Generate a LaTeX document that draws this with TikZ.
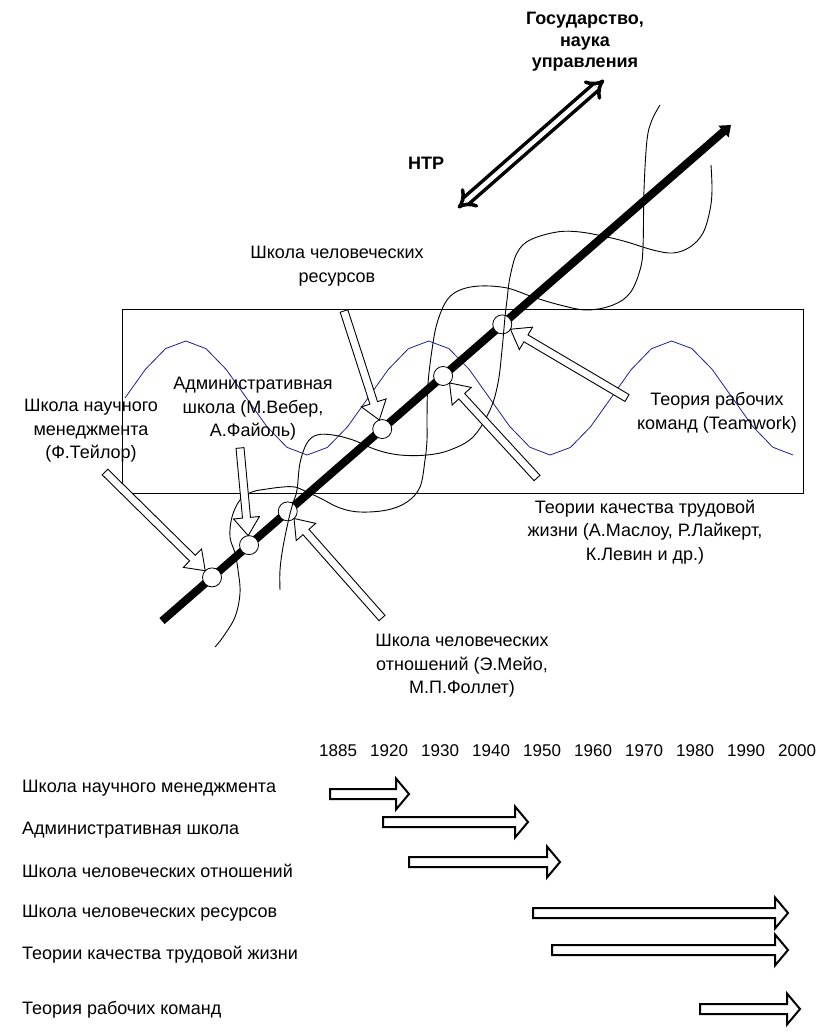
\documentclass[tikz,border=0pt]{standalone}
\usepackage{fontspec}
\setmainfont{Liberation Sans}
\usetikzlibrary{calc,arrows.meta}
\definecolor{navy}{RGB}{30,30,150}
\newcommand{\blockarrowdraw}[6]{%
  \coordinate (hb) at ($(#3)!#6!(#2)$);
  \draw[#1] ($(#2)!#4!90:(#3)$) -- ($(hb)!#4!90:(#3)$) -- ($(hb)!#5!90:(#3)$) -- (#3)
    -- ($(hb)!#5!-90:(#3)$) -- ($(hb)!#4!-90:(#3)$) -- ($(#2)!#4!-90:(#3)$) -- cycle;
}
\tikzset{
  lbl/.style={font=\fontsize{18}{23.5}\selectfont, align=center, inner sep=0pt},
  blbl/.style={font=\fontsize{18}{21.5}\selectfont\bfseries, align=center, inner sep=0pt},
  rowlbl/.style={font=\fontsize{18}{22}\selectfont, anchor=west, inner sep=0pt},
  yearlbl/.style={font=\fontsize{17}{20}\selectfont, anchor=west, inner sep=0pt},
  dotc/.style={circle, draw, fill=white, line width=0.8pt, minimum size=19pt, inner sep=0pt},
  spiral/.style={line width=0.9pt},
  wave/.style={draw=navy, line width=0.8pt},
  hollow/.style={draw, fill=white, line width=0.9pt, line join=miter},
  thollow/.style={draw, fill=white, line width=2pt, line join=miter},
}
\begin{document}
\begin{tikzpicture}[x=1pt,y=-1pt]
\useasboundingbox (0,0) rectangle (836,1032);
% frame
\node[draw, line width=0.9pt, minimum width=681pt, minimum height=184pt, inner sep=0pt, anchor=north west] (frame) at (122,309) {};
% sine wave
\draw[wave] plot[domain=125:793, samples=34] (\x,{398-57*sin((\x-125)/243*360)});
% main thick arrow
\coordinate (ls) at (162,621);
\coordinate (le) at (731,125);
\draw[line width=8pt, -{Triangle[length=10pt,width=15pt]}] (ls) -- (le);
% circles
\node[dotc] (c1) at ($(ls)!0.0879!(le)$) {};
\node[dotc] (c2) at ($(ls)!0.153!(le)$) {};
\node[dotc] (c3) at ($(ls)!0.221!(le)$) {};
\node[dotc] (c4) at ($(ls)!0.387!(le)$) {};
\node[dotc] (c5) at ($(ls)!0.494!(le)$) {};
\node[dotc] (c6) at ($(ls)!0.598!(le)$) {};
% spiral curves
\draw[spiral] plot[smooth, tension=0.6] coordinates {(660,105) (652,120) (647,140) (644,190) (643,247) (640,270) (630,293) (613,305) (587,310) (560,305) (533,297) (507,288) (480,286) (460,290) (447,300) (438,320) (433,343) (428,383) (427,417) (427,440) (425,460) (420,487) (407,502) (387,510) (360,512) (340,508) (320,498) (307,492) (295,487) (283,487) (267,489) (252,492) (240,500) (232,517) (230,537) (235,553) (238,570) (240,593) (235,617) (223,637) (215,647)};
\draw[spiral] plot[smooth, tension=0.6] coordinates {(711,165) (712,190) (710,210) (703,233) (690,247) (673,253) (653,250) (627,242) (607,237) (580,232) (557,232) (530,240) (517,253) (510,277) (507,300) (505,317) (502,350) (498,383) (490,410) (473,437) (450,450) (427,455) (400,455) (377,450) (353,440) (333,435) (317,435) (307,443) (300,463) (297,490) (293,503) (289,518) (283,547) (280,570) (280,590)};
% double arrow
\coordinate (d1) at (458,208);
\coordinate (d2) at (604,80);
\draw[line width=3.5pt, double=white, double distance=4.5pt, {Implies}-{Implies}] (d1) -- (d2);
% hollow block arrows
\coordinate (a1tail) at (105,472);
\coordinate (a2tail) at (240,448);
\coordinate (a3tail) at (382,618);
\coordinate (a4tail) at (344,311);
\coordinate (a5tail) at (537,478);
\coordinate (a6tail) at (627,398);
\coordinate (a1tip) at ($(c1)!9.5pt!(a1tail)$);
\coordinate (a2tip) at ($(c2)!9.5pt!(a2tail)$);
\coordinate (a3tip) at ($(c3)!9.5pt!(a3tail)$);
\coordinate (a4tip) at ($(c4)!9.5pt!(a4tail)$);
\coordinate (a5tip) at ($(c5)!9.5pt!(a5tail)$);
\coordinate (a6tip) at ($(c6)!9.5pt!(a6tail)$);
\blockarrowdraw{hollow}{a1tail}{a1tip}{4pt}{13pt}{18pt}
\blockarrowdraw{hollow}{a2tail}{a2tip}{4pt}{13pt}{18pt}
\blockarrowdraw{hollow}{a3tail}{a3tip}{4pt}{13pt}{18pt}
\blockarrowdraw{hollow}{a4tail}{a4tip}{4pt}{13pt}{18pt}
\blockarrowdraw{hollow}{a5tail}{a5tip}{4pt}{13pt}{18pt}
\blockarrowdraw{hollow}{a6tail}{a6tip}{4pt}{13pt}{18pt}
% labels
\node[blbl] (gos) at (585,42) {Государство,\\наука\\управления};
\node[blbl] (ntr) at (426,163) {НТР};
\node[lbl] (lres) at (337,266) {Школа человеческих\\ресурсов};
\node[lbl] (ladm) at (253,409) {Административная\\школа (М.Вебер,\\А.Файоль)};
\node[lbl] (lsci) at (91,431) {Школа научного\\менеджмента\\(Ф.Тейлор)};
\node[lbl] (lteam) at (717,413) {Теория рабочих\\команд (Teamwork)};
\node[lbl] (lqual) at (645,532) {Теории качества трудовой\\жизни (А.Маслоу, Р.Лайкерт,\\К.Левин и др.)};
\node[lbl] (lrel) at (462,666) {Школа человеческих\\отношений (Э.Мейо,\\М.П.Фоллет)};
% timeline years
\foreach \yr [count=\i from 0] in {1885,1920,1930,1940,1950,1960,1970,1980,1990,2000}
  \node[yearlbl] (y\yr) at ({319+51.0*\i},751) {\yr};
% timeline rows
\node[rowlbl] (r1) at (22,788) {Школа научного менеджмента};
\node[rowlbl] (r2) at (22,830) {Административная школа};
\node[rowlbl] (r3) at (22,871) {Школа человеческих отношений};
\node[rowlbl] (r4) at (22,913) {Школа человеческих ресурсов};
\node[rowlbl] (r5) at (22,955) {Теории качества трудовой жизни};
\node[rowlbl] (r6) at (22,1010) {Теория рабочих команд};
\coordinate (t1a) at (330,794); \coordinate (t1b) at (409,794);
\coordinate (t2a) at (383,822); \coordinate (t2b) at (528,822);
\coordinate (t3a) at (409,862); \coordinate (t3b) at (560,862);
\coordinate (t4a) at (533,913); \coordinate (t4b) at (788,913);
\coordinate (t5a) at (552,950); \coordinate (t5b) at (788,950);
\coordinate (t6a) at (700,1009); \coordinate (t6b) at (800,1009);
\blockarrowdraw{thollow}{t1a}{t1b}{5pt}{15.5pt}{13pt}
\blockarrowdraw{thollow}{t2a}{t2b}{5pt}{15.5pt}{13pt}
\blockarrowdraw{thollow}{t3a}{t3b}{5pt}{15.5pt}{13pt}
\blockarrowdraw{thollow}{t4a}{t4b}{5pt}{15.5pt}{13pt}
\blockarrowdraw{thollow}{t5a}{t5b}{5pt}{15.5pt}{13pt}
\blockarrowdraw{thollow}{t6a}{t6b}{5pt}{15.5pt}{13pt}
\end{tikzpicture}
\end{document}
